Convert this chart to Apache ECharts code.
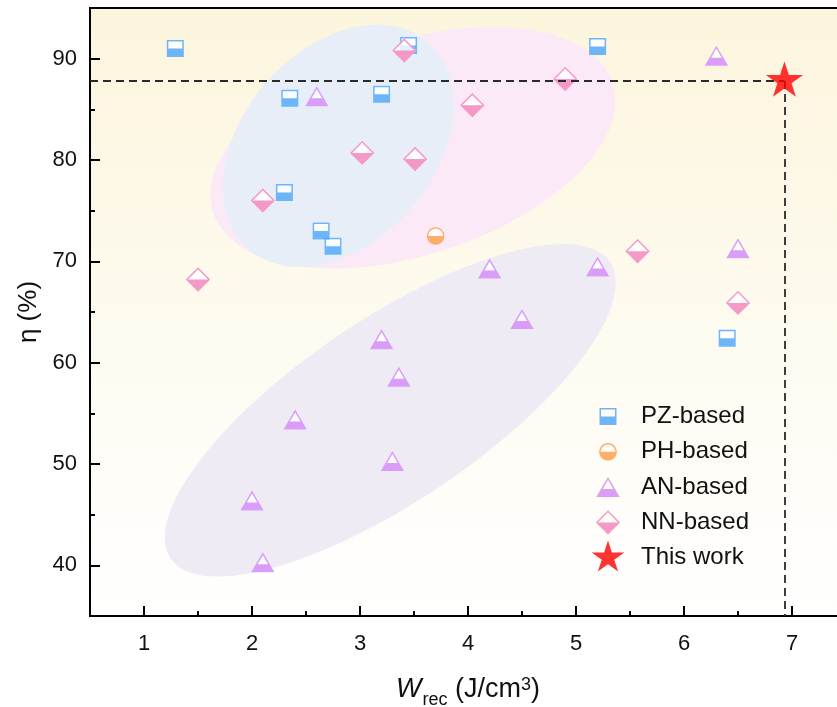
<!DOCTYPE html>
<html>
<head>
<meta charset="utf-8">
<script src="https://cdn.jsdelivr.net/npm/echarts@6/dist/echarts.min.js"></script>
<style>
  html, body { margin: 0; padding: 0; background: #fff; }
  #chart { width: 837px; height: 707px; }
</style>
</head>
<body>
<div id="chart"></div>
<script>
// values
const pzX = [1.29, 2.35, 3.2, 3.45, 2.3, 2.64, 2.75, 5.2, 6.4]
const pzY = [91.0, 86.1, 86.5, 91.3, 76.8, 73.0, 71.5, 91.2, 62.4]
const phX = [3.7]
const phY = [72.5]
const anX = [2.6, 6.3, 6.5, 4.2, 5.2, 3.2, 3.36, 2.4, 3.3, 2.0, 2.1, 4.5]
const anY = [86.3, 90.3, 71.3, 69.3, 69.5, 62.3, 58.6, 54.4, 50.3, 46.4, 40.3, 64.3]
const nnX = [3.41, 4.04, 3.02, 3.51, 2.1, 1.5, 4.9, 5.57, 6.5]
const nnY = [90.8, 85.4, 80.7, 80.1, 76.0, 68.2, 88.0, 71.0, 65.9]
const starX = [6.93]
const starY = [87.8]

const seriesNames = ['PZ-based', 'PH-based', 'AN-based', 'NN-based', 'This work']
const xTicks = [1, 2, 3, 4, 5, 6, 7]
const xMinorTicks = [1.5, 2.5, 3.5, 4.5, 5.5, 6.5]
const yTicks = [40, 50, 60, 70, 80, 90]
const yMinorTicks = [45, 55, 65, 75, 85]

const X_MIN = 0.5, X_MAX = 7.5, Y_MIN = 35, Y_MAX = 95
const FONT = '"Liberation Sans", Arial, Helvetica, sans-serif'

// shaded groups behind the points (center in data units, radii in px)
const blobs = [
  { cx: 3.49, cy: 81.2, a: 210, b: 107, angle: 18, color: '#FCE9F7' },
  { cx: 2.80, cy: 81.4, a: 137, b: 96, angle: 49, color: '#E7EEF8' },
  { cx: 3.28, cy: 55.3, a: 265, b: 91, angle: 34, color: '#EEEBF5' }
]

// symbols live in a 40 x 35 frame, so markers and legend icons keep their own sizes
const FRAME = 'M-20 -17.5 M20 17.5 '
const poly = (pts) => 'M' + pts.map(p => p[0].toFixed(2) + ' ' + p[1].toFixed(2)).join(' L') + ' Z '
const arcPts = (r, a0, a1, n) => {
  const pts = []
  for (let i = 0; i <= n; i++) {
    const t = a0 + (a1 - a0) * i / n
    pts.push([r * Math.cos(t), r * Math.sin(t)])
  }
  return pts
}
const starPts = (R) => {
  const pts = []
  for (let i = 0; i < 10; i++) {
    const t = (-90 + 36 * i) * Math.PI / 180
    const r = i % 2 === 0 ? R : R * 0.382
    pts.push([r * Math.cos(t), r * Math.sin(t)])
  }
  return pts
}

const shapes = {
  square: {
    base: FRAME + poly([[-8.5, -8.5], [8.5, -8.5], [8.5, 8.5], [-8.5, 8.5]]),
    mark: FRAME + poly([[-8.5, -8.5], [8.5, -8.5], [8.5, 8.5], [-8.5, 8.5]]) +
      poly([[-7, -7], [-7, 7], [7, 7], [7, -7]]) +
      poly([[-7, 0], [7, 0], [7, 7], [-7, 7]])
  },
  circle: {
    base: FRAME + poly(arcPts(8.8, 0, 2 * Math.PI, 48)),
    mark: FRAME + poly(arcPts(8.8, 0, 2 * Math.PI, 48)) +
      poly(arcPts(7.3, 2 * Math.PI, 0, 48)) +
      poly(arcPts(7.3, 0, Math.PI, 24))
  },
  triangle: {
    base: FRAME + poly([[0, -10], [11.7, 10], [-11.7, 10]]),
    mark: FRAME + poly([[0, -10], [11.7, 10], [-11.7, 10]]) +
      poly([[0, -7.02], [-9.08, 8.5], [9.08, 8.5]]) +
      poly([[-5.28, 2], [5.28, 2], [9.08, 8.5], [-9.08, 8.5]])
  },
  diamond: {
    base: FRAME + poly([[0, -12.2], [12.2, 0], [0, 12.2], [-12.2, 0]]),
    mark: FRAME + poly([[0, -12.2], [12.2, 0], [0, 12.2], [-12.2, 0]]) +
      poly([[0, -10.1], [-10.1, 0], [0, 10.1], [10.1, 0]]) +
      poly([[-10.1, 0], [10.1, 0], [0, 10.1]])
  },
  star: {
    mark: FRAME + poly(starPts(17.2))
  }
}

const zip = (xs, ys) => xs.map((x, i) => [x, ys[i]])

const markerSeries = (name, xs, ys, shape, color) => [
  {
    name: name + ' base',
    type: 'scatter',
    data: zip(xs, ys),
    symbol: 'path://' + shape.base,
    symbolSize: [40, 35],
    itemStyle: { color: '#ffffff' },
    silent: true,
    emphasis: { disabled: true }
  },
  {
    name: name,
    type: 'scatter',
    data: zip(xs, ys),
    symbol: 'path://' + shape.mark,
    symbolSize: [40, 35],
    itemStyle: { color: color },
    silent: true,
    emphasis: { disabled: true }
  }
]

const chart = echarts.init(document.getElementById('chart'))

const tickStyle = { color: '#000', width: 2 }

const option = {
  animation: false,
  grid: {
    left: 90,
    top: 8,
    width: 756,
    height: 608,
    outerBoundsMode: 'none',
    containLabel: false,
    show: true,
    borderColor: '#000',
    borderWidth: 2,
    backgroundColor: {
      type: 'linear', x: 0, y: 0, x2: 0, y2: 1,
      colorStops: [
        { offset: 0, color: '#FCF5DD' },
        { offset: 0.7, color: '#FEFCF5' },
        { offset: 1, color: '#FFFFFF' }
      ]
    }
  },
  legend: {
    orient: 'vertical',
    left: 588,
    top: 399,
    padding: 0,
    itemWidth: 40,
    itemHeight: 35,
    itemGap: 0.3,
    selectedMode: false,
    textStyle: { fontSize: 24, color: '#111', fontFamily: FONT, padding: [0, 0, 0, 8] },
    data: seriesNames
  },
  xAxis: [
    {
      type: 'value',
      min: X_MIN,
      max: X_MAX,
      position: 'bottom',
      axisLine: { show: true, onZero: false, lineStyle: { color: '#000', width: 2 } },
      axisTick: { show: true, inside: true, length: 10, customValues: xTicks, lineStyle: tickStyle },
      axisLabel: { customValues: xTicks, fontSize: 22, color: '#111', margin: 17, fontFamily: FONT },
      splitLine: { show: false },
      name: '{i|W}{s|rec}{a| (J/cm}{p|3}{a|)}',
      nameLocation: 'middle',
      nameGap: 60,
      nameTextStyle: {
        fontFamily: FONT,
        color: '#111',
        rich: {
          a: { fontSize: 27, lineHeight: 30, verticalAlign: 'top', fontFamily: FONT, color: '#111' },
          i: { fontSize: 27, lineHeight: 30, verticalAlign: 'top', fontStyle: 'italic', fontFamily: FONT, color: '#111' },
          s: { fontSize: 18, lineHeight: 18, verticalAlign: 'top', padding: [15, 0, 0, 1], fontFamily: FONT, color: '#111' },
          p: { fontSize: 18, lineHeight: 18, verticalAlign: 'top', fontFamily: FONT, color: '#111' }
        }
      }
    },
    {
      type: 'value',
      min: X_MIN,
      max: X_MAX,
      position: 'bottom',
      axisLine: { show: false },
      axisTick: { show: true, inside: true, length: 5, customValues: xMinorTicks, lineStyle: tickStyle },
      axisLabel: { show: false },
      splitLine: { show: false }
    }
  ],
  yAxis: [
    {
      type: 'value',
      min: Y_MIN,
      max: Y_MAX,
      position: 'left',
      axisLine: { show: true, onZero: false, lineStyle: { color: '#000', width: 2 } },
      axisTick: { show: true, inside: true, length: 10, customValues: yTicks, lineStyle: tickStyle },
      axisLabel: { customValues: yTicks, fontSize: 22, color: '#111', margin: 13, fontFamily: FONT },
      splitLine: { show: false },
      name: 'η (%)',
      nameLocation: 'middle',
      nameGap: 48,
      nameRotate: 90,
      nameTextStyle: { fontSize: 26, color: '#111', fontFamily: FONT }
    },
    {
      type: 'value',
      min: Y_MIN,
      max: Y_MAX,
      position: 'left',
      axisLine: { show: false },
      axisTick: { show: true, inside: true, length: 5, customValues: yMinorTicks, lineStyle: tickStyle },
      axisLabel: { show: false },
      splitLine: { show: false }
    }
  ],
  series: [
    {
      name: 'groups',
      type: 'custom',
      silent: true,
      data: blobs.map(b => [b.cx, b.cy]),
      renderItem: (params, api) => {
        const b = blobs[params.dataIndex]
        const c = api.coord([api.value(0), api.value(1)])
        const phi = b.angle * Math.PI / 180
        const pts = []
        for (let k = 0; k < 120; k++) {
          const t = k / 120 * 2 * Math.PI
          const u = b.a * Math.cos(t)
          const v = b.b * Math.sin(t)
          pts.push([c[0] + u * Math.cos(phi) + v * Math.sin(phi), c[1] - u * Math.sin(phi) + v * Math.cos(phi)])
        }
        return { type: 'polygon', shape: { points: pts }, style: { fill: b.color } }
      }
    },
    ...markerSeries('PZ-based', pzX, pzY, shapes.square, '#4AA3F8'),
    ...markerSeries('PH-based', phX, phY, shapes.circle, '#FF9A48'),
    ...markerSeries('AN-based', anX, anY, shapes.triangle, '#CF86F7'),
    ...markerSeries('NN-based', nnX, nnY, shapes.diamond, '#F27FB9'),
    {
      name: 'This work',
      type: 'scatter',
      z: 10,
      data: zip(starX, starY),
      symbol: 'path://' + shapes.star.mark,
      symbolSize: [45.4, 39.7],
      itemStyle: { color: '#FF0000' },
      silent: true,
      emphasis: { disabled: true },
      markLine: {
        silent: true,
        symbol: 'none',
        z: 3,
        label: { show: false },
        emphasis: { disabled: true },
        lineStyle: { color: '#2a2a2a', width: 1.8, type: [8, 5] },
        data: [
          [{ coord: [X_MIN, starY[0]] }, { coord: [starX[0], starY[0]] }],
          [{ coord: [starX[0], starY[0]] }, { coord: [starX[0], Y_MIN] }]
        ]
      }
    }
  ]
}

chart.setOption(option)
</script>
</body>
</html>
